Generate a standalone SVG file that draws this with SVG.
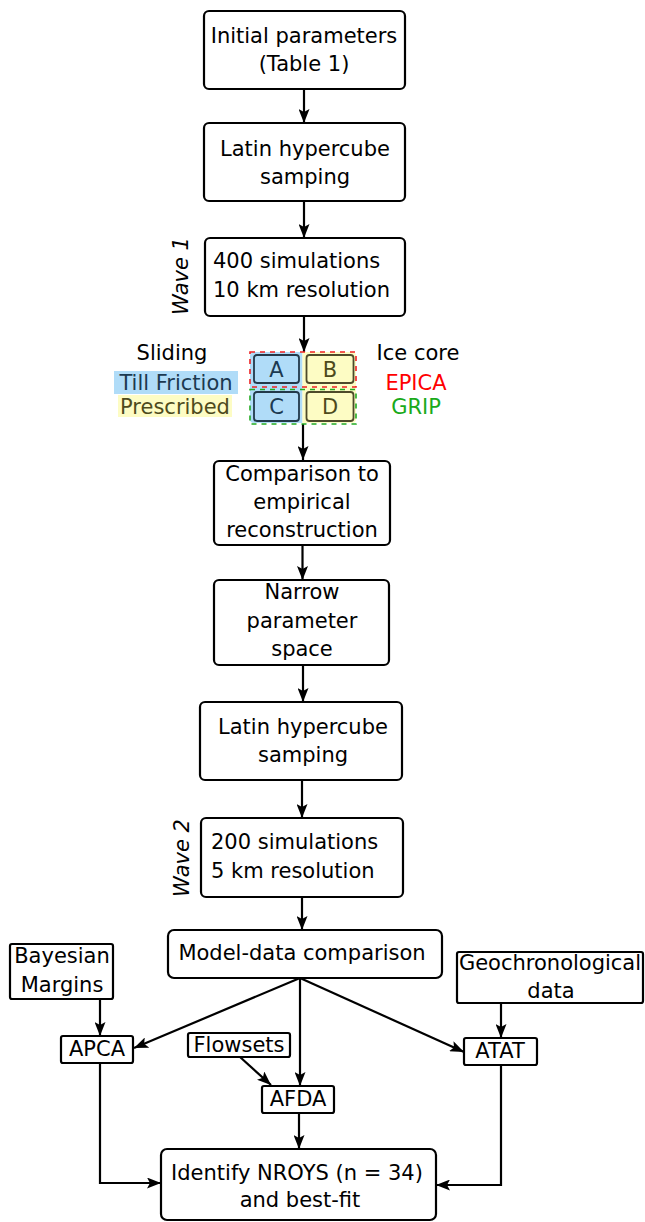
<svg xmlns="http://www.w3.org/2000/svg" width="645" height="1222" viewBox="0 0 645 1222">
<defs>
<marker id="arr" viewBox="0 0 14 11" refX="14" refY="5.5" markerWidth="14" markerHeight="11" markerUnits="userSpaceOnUse" orient="auto">
<path d="M0,0 L14,5.5 L0,11 L3,5.5 z" fill="#000"/>
</marker>
<style>
.box{fill:#fff;stroke:#000;stroke-width:2.2}
.sm{fill:#fff;stroke:#000;stroke-width:2.2}
.t{font-family:"DejaVu Sans",Verdana,sans-serif;font-size:21px;fill:#000}
.c{text-anchor:middle}
.w{font-style:italic}
.ln{fill:none;stroke:#000;stroke-width:2.2;marker-end:url(#arr)}
</style>
</defs>
<rect width="645" height="1222" fill="#fff"/>

<g id="connectors">
<line class="ln" x1="304" y1="89" x2="304" y2="123"/>
<line class="ln" x1="304" y1="201" x2="304" y2="238"/>
<line class="ln" x1="304" y1="316" x2="304" y2="352"/>
<line class="ln" x1="303" y1="424" x2="303" y2="460"/>
<line class="ln" x1="302.5" y1="545" x2="302.5" y2="580"/>
<line class="ln" x1="303" y1="665" x2="303" y2="702"/>
<line class="ln" x1="302" y1="780" x2="302" y2="818"/>
<line class="ln" x1="302" y1="897" x2="302" y2="930"/>
<line class="ln" x1="300" y1="978" x2="134" y2="1048"/>
<line class="ln" x1="300" y1="978" x2="300" y2="1086"/>
<line class="ln" x1="300" y1="978" x2="464" y2="1052"/>
<line class="ln" x1="100" y1="999" x2="100" y2="1036"/>
<line class="ln" x1="501" y1="1003" x2="501" y2="1038"/>
<line class="ln" x1="240" y1="1057" x2="271" y2="1085"/>
<line class="ln" x1="299" y1="1113" x2="299" y2="1149"/>
<polyline class="ln" points="100,1063 100,1183 161,1183"/>
<polyline class="ln" points="501,1065 501,1185 436,1185"/>
</g>

<g id="n1">
<rect class="box" x="204" y="11" width="201" height="78" rx="5"/>
<text class="t c" x="304" y="43">Initial parameters</text>
<text class="t c" x="304" y="71">(Table 1)</text>
</g>

<g id="n2">
<rect class="box" x="204" y="123" width="201" height="78" rx="5"/>
<text class="t c" x="305" y="156">Latin hypercube</text>
<text class="t c" x="305" y="184">samping</text>
</g>

<g id="n3">
<rect class="box" x="205" y="238" width="200" height="78" rx="5"/>
<text class="t" x="213" y="268">400 simulations</text>
<text class="t" x="213" y="297">10 km resolution</text>
</g>
<g id="wave1">
<text class="t c w" transform="translate(188,276) rotate(-90)">Wave 1</text>
</g>

<g id="legend">
<rect x="114" y="371" width="124" height="23" fill="#b0dcf8"/>
<rect x="118" y="395" width="114" height="22" fill="#fdfcc4"/>
<text class="t c" x="172" y="360">Sliding</text>
<text class="t c" x="176" y="390" style="fill:#1c3950">Till Friction</text>
<text class="t c" x="175" y="414" style="fill:#4d4a1c">Prescribed</text>
<text class="t c" x="418" y="360">Ice core</text>
<text class="t c" x="416" y="390" style="fill:#ff0000">EPICA</text>
<text class="t c" x="416" y="414" style="fill:#1aaa1a">GRIP</text>
</g>

<g id="grid">
<path d="M302.5,352 H254 a4,4 0 0 0 -4,4 V419 a4,4 0 0 0 4,4 H302.5 z" fill="#b0dcf8"/>
<path d="M302.5,352 H352 a4,4 0 0 1 4,4 V419 a4,4 0 0 1 -4,4 H302.5 z" fill="#fdfcc4"/>
<rect x="250" y="352" width="106" height="35" fill="none" stroke="#ee2222" stroke-width="1.6" stroke-dasharray="5,5"/>
<rect x="250" y="389.5" width="106" height="34.5" fill="none" stroke="#22aa22" stroke-width="1.6" stroke-dasharray="5,5"/>
</g>
<g id="nA">
<rect x="254" y="355" width="45" height="28" rx="3" fill="#b0dcf8" stroke="#22394a" stroke-width="1.8"/>
<text class="t c" x="276.5" y="377" style="fill:#1c3950">A</text>
</g>
<g id="nB">
<rect x="306.5" y="355" width="47" height="28" rx="3" fill="#fdfcc4" stroke="#4d4a2a" stroke-width="1.8"/>
<text class="t c" x="330" y="377" style="fill:#4d4a1c">B</text>
</g>
<g id="nC">
<rect x="254" y="392" width="45" height="29" rx="3" fill="#b0dcf8" stroke="#22394a" stroke-width="1.8"/>
<text class="t c" x="276.5" y="414" style="fill:#1c3950">C</text>
</g>
<g id="nD">
<rect x="306.5" y="392" width="47" height="29" rx="3" fill="#fdfcc4" stroke="#4d4a2a" stroke-width="1.8"/>
<text class="t c" x="330" y="414" style="fill:#4d4a1c">D</text>
</g>

<g id="n4">
<rect class="box" x="214" y="461" width="176" height="84" rx="5"/>
<text class="t c" x="302" y="481">Comparison to</text>
<text class="t c" x="302" y="509">empirical</text>
<text class="t c" x="302" y="537">reconstruction</text>
</g>

<g id="n5">
<rect class="box" x="214" y="580" width="175" height="85" rx="5"/>
<text class="t c" x="302" y="599">Narrow</text>
<text class="t c" x="302" y="628">parameter</text>
<text class="t c" x="302" y="656">space</text>
</g>

<g id="n6">
<rect class="box" x="200" y="702" width="202" height="78" rx="5"/>
<text class="t c" x="303" y="734">Latin hypercube</text>
<text class="t c" x="303" y="762">samping</text>
</g>

<g id="n7">
<rect class="box" x="201" y="818" width="202" height="79" rx="5"/>
<text class="t" x="211" y="849">200 simulations</text>
<text class="t" x="211" y="878">5 km resolution</text>
</g>
<g id="wave2">
<text class="t c w" transform="translate(189,858) rotate(-90)">Wave 2</text>
</g>

<g id="n8">
<rect class="box" x="168" y="930" width="274" height="48" rx="6"/>
<text class="t c" x="302" y="960">Model-data comparison</text>
</g>

<g id="n9">
<rect class="sm" x="10" y="944" width="103" height="55" rx="2"/>
<text class="t c" x="62" y="963">Bayesian</text>
<text class="t c" x="62" y="992">Margins</text>
</g>

<g id="n10">
<rect class="sm" x="457" y="952" width="186" height="51" rx="2"/>
<text class="t c" x="550" y="970">Geochronological</text>
<text class="t c" x="551" y="998">data</text>
</g>

<g id="n11">
<rect class="sm" x="61" y="1036" width="72" height="27" rx="2"/>
<text class="t c" x="97" y="1056">APCA</text>
</g>

<g id="n12">
<rect class="sm" x="188" y="1033" width="102" height="24" rx="2"/>
<text class="t c" x="239" y="1052">Flowsets</text>
</g>

<g id="n13">
<rect class="sm" x="464" y="1038" width="73" height="27" rx="2"/>
<text class="t c" x="500" y="1058">ATAT</text>
</g>

<g id="n14">
<rect class="sm" x="262" y="1086" width="72" height="27" rx="2"/>
<text class="t c" x="298" y="1106">AFDA</text>
</g>

<g id="n15">
<rect class="box" x="161" y="1149" width="275" height="71" rx="6"/>
<text class="t c" x="297" y="1180">Identify NROYS (n = 34)</text>
<text class="t c" x="300" y="1207">and best-fit</text>
</g>
</svg>
